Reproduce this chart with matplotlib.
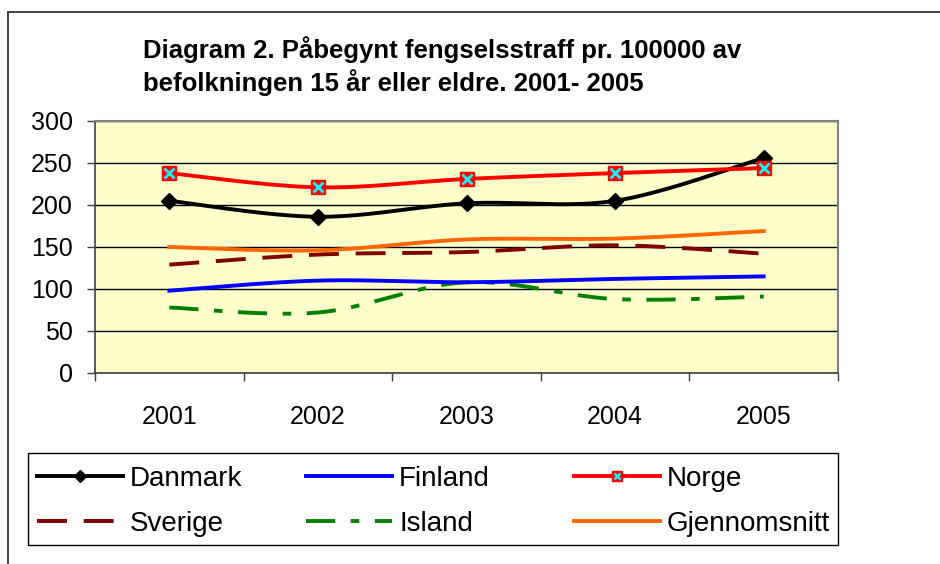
import numpy as np
import matplotlib
matplotlib.use("Agg")
import matplotlib.pyplot as plt
from matplotlib.lines import Line2D
from matplotlib.patches import Rectangle

years = ["2001", "2002", "2003", "2004", "2005"]
danmark = [205, 186, 202, 205, 256]
finland = [98, 110, 108, 112, 115]
norge = [238, 221, 231, 238, 244]
sverige = [129, 141, 144, 152, 142]
island = [78, 72, 108, 88, 91]
gjennomsnitt = [150, 146, 159, 160, 169]

title = "Diagram 2. Påbegynt fengselsstraff pr. 100000 av\nbefolkningen 15 år eller eldre. 2001- 2005"

plt.rcParams['font.family'] = ['Liberation Sans', 'DejaVu Sans']

W, H = 940, 564
fig = plt.figure(figsize=(W / 100, H / 100), dpi=100)

def fx(px):
    return px / W

def fy(py):
    return 1 - py / H

# outer chart frame
fig.patches.append(Rectangle((fx(8), fy(600)), fx(1000), fy(12) - fy(600),
                             transform=fig.transFigure, fill=False,
                             edgecolor='#303030', linewidth=1.3))

ax = fig.add_axes([fx(95), fy(373), fx(838) - fx(95), fy(121) - fy(373)])
ax.set_facecolor('#FFFFCC')


def smooth(vals, n=40):
    x = np.arange(len(vals), dtype=float)
    y = np.asarray(vals, dtype=float)
    pts = np.column_stack([x, y])
    out = []
    m = len(pts)
    for i in range(m - 1):
        p0 = pts[max(i - 1, 0)]
        p1 = pts[i]
        p2 = pts[i + 1]
        p3 = pts[min(i + 2, m - 1)]
        c1 = p1 + (p2 - p0) / 6.0
        c2 = p2 - (p3 - p1) / 6.0
        t = np.linspace(0, 1, n)[:, None]
        seg = ((1 - t) ** 3) * p1 + 3 * ((1 - t) ** 2) * t * c1 + 3 * (1 - t) * t ** 2 * c2 + t ** 3 * p2
        if i > 0:
            seg = seg[1:]
        out.append(seg)
    out = np.vstack(out)
    return out[:, 0], out[:, 1]

xi = np.arange(len(years))
lw = 2.8
dash_sve = (7.7, 4.3)
dash_isl = (7.5, 4.0, 2.2, 4.0)

sx, sy = smooth(island)
ax.plot(sx, sy, color='#008000', lw=lw, dashes=dash_isl, zorder=3)
sx, sy = smooth(sverige)
ax.plot(sx, sy, color='#800000', lw=lw, dashes=dash_sve, zorder=3)
sx, sy = smooth(finland)
ax.plot(sx, sy, color='#0000FF', lw=lw, zorder=3)
sx, sy = smooth(gjennomsnitt)
ax.plot(sx, sy, color='#FF6600', lw=lw, zorder=3)
sx, sy = smooth(danmark)
ax.plot(sx, sy, color='black', lw=lw, zorder=4)
ax.plot(xi, danmark, ls='none', marker='D', ms=8.5, color='black', zorder=5)
sx, sy = smooth(norge)
ax.plot(sx, sy, color='#FF0000', lw=lw, zorder=4)
ax.plot(xi, norge, ls='none', marker='s', ms=10, color='#FF0000', mec='#FF0000', zorder=5)
ax.plot(xi, norge, ls='none', marker='x', ms=6.5, mew=2, color='#00FFFF', zorder=6)

ax.set_xlim(-0.5, len(years) - 0.5)
ax.set_ylim(0, 300)
ax.set_yticks(np.arange(0, 301, 50))
ax.set_xticks(xi)
ax.set_xticklabels(years)
ax.set_xticks(np.arange(-0.5, len(years), 1.0), minor=True)
ax.tick_params(axis='x', which='major', length=0, labelsize=18, pad=23)
ax.tick_params(axis='x', which='minor', length=6, width=1, color='#404040', direction='out')
ax.tick_params(axis='y', length=6, width=1, color='#404040', direction='out', labelsize=18, pad=10)
ax.yaxis.grid(True, color='black', lw=1)
ax.set_axisbelow(True)
for s in ['top', 'right']:
    ax.spines[s].set_color('#808080')
    ax.spines[s].set_linewidth(1.5)
for s in ['left', 'bottom']:
    ax.spines[s].set_color('#404040')
    ax.spines[s].set_linewidth(1.2)

fig.text(fx(143), fy(66), title, fontsize=18.5, fontweight='bold', ha='left', va='center',
         linespacing=1.3)

# legend
h_dan = Line2D([], [], color='black', lw=lw, marker='D', ms=6.5)
h_fin = Line2D([], [], color='#0000FF', lw=lw)
h_nor_line = Line2D([], [], color='#FF0000', lw=lw, marker='s', ms=7.5)
h_nor_x = Line2D([], [], ls='none', marker='x', color='#00FFFF', ms=5, mew=1.8)
h_sve = Line2D([], [], color='#800000', lw=lw, dashes=dash_sve)
h_isl = Line2D([], [], color='#008000', lw=lw, dashes=dash_isl)
h_gje = Line2D([], [], color='#FF6600', lw=lw)

cols = [
    ([h_dan, h_sve], ["Danmark", "Sverige"], 37),
    ([h_fin, h_isl], ["Finland", "Island"], 306),
    ([(h_nor_line, h_nor_x), h_gje], ["Norge", "Gjennomsnitt"], 574),
]
for hs, ls_, x0 in cols:
    leg = fig.legend(hs, ls_, loc='upper left', bbox_to_anchor=(fx(x0), fy(466)),
                     bbox_transform=fig.transFigure, frameon=False, fontsize=20,
                     handlelength=3.1, handletextpad=0.25, labelspacing=0.68,
                     borderpad=0, borderaxespad=0)

fig.patches.append(Rectangle((fx(28), fy(545)), fx(838) - fx(28), fy(453) - fy(545),
                             transform=fig.transFigure, fill=False,
                             edgecolor='black', linewidth=1.0))

fig.savefig("out.png", dpi=100)
